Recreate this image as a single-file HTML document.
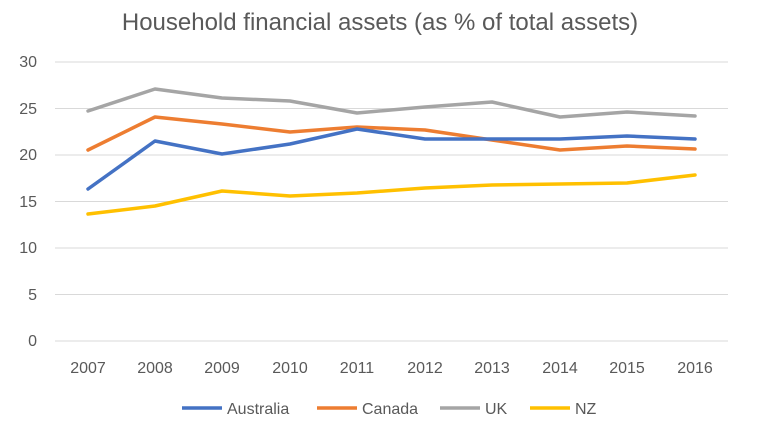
<!DOCTYPE html>
<html><head><style>body{margin:0;background:#fff}svg{display:block}text{font-family:"Liberation Sans",sans-serif;fill:#595959}</style></head>
<body>
<svg width="760" height="428" xmlns="http://www.w3.org/2000/svg">
<text x="380" y="30" font-size="24" text-anchor="middle">Household financial assets (as % of total assets)</text>
<g stroke="#d9d9d9" stroke-width="1">
<line x1="55" x2="728" y1="62" y2="62"/><line x1="55" x2="728" y1="108.5" y2="108.5"/>
<line x1="55" x2="728" y1="155" y2="155"/><line x1="55" x2="728" y1="201.5" y2="201.5"/>
<line x1="55" x2="728" y1="248" y2="248"/><line x1="55" x2="728" y1="294.5" y2="294.5"/>
<line x1="55" x2="728" y1="341" y2="341"/></g>
<g font-size="16" text-anchor="end">
<text x="37" y="67">30</text><text x="37" y="114">25</text><text x="37" y="160">20</text>
<text x="37" y="207">15</text><text x="37" y="253">10</text><text x="37" y="300">5</text><text x="37" y="346">0</text></g>
<g font-size="16" text-anchor="middle">
<text x="88" y="373">2007</text><text x="155" y="373">2008</text><text x="222" y="373">2009</text><text x="290" y="373">2010</text><text x="357" y="373">2011</text><text x="425" y="373">2012</text><text x="492" y="373">2013</text><text x="560" y="373">2014</text><text x="627" y="373">2015</text><text x="695" y="373">2016</text></g>
<g fill="none" stroke-width="3.5" stroke-linejoin="round" stroke-linecap="round">
<polyline stroke="#a5a5a5" points="88,111 155,89 222,98 290,101 357,113 425,107 492,102 560,117 627,112 695,116"/>
<polyline stroke="#ed7d31" points="88,150 155,117 222,124 290,132 357,127 425,130 492,140 560,150 627,146 695,149"/>
<polyline stroke="#4472c4" points="88,189 155,141 222,154 290,144 357,129 425,139 492,139 560,139 627,136 695,139"/>
<polyline stroke="#ffc000" points="88,214 155,206 222,191 290,196 357,193 425,188 492,185 560,184 627,183 695,175"/>
</g>
<g font-size="16" stroke-width="3.5">
<line x1="182" x2="222" y1="408" y2="408" stroke="#4472c4"/><text x="227" y="414">Australia</text>
<line x1="317" x2="357" y1="408" y2="408" stroke="#ed7d31"/><text x="362" y="414">Canada</text>
<line x1="440" x2="480" y1="408" y2="408" stroke="#a5a5a5"/><text x="485" y="414">UK</text>
<line x1="530" x2="570" y1="408" y2="408" stroke="#ffc000"/><text x="575" y="414">NZ</text>
</g>
</svg>
</body></html>
